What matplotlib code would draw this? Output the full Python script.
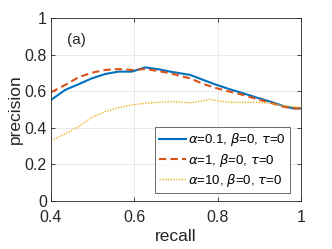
import matplotlib
matplotlib.use("Agg")
import matplotlib.pyplot as plt

plt.rcParams['font.family'] = ['Liberation Sans', 'DejaVu Sans']
plt.rcParams['mathtext.fontset'] = 'dejavusans'

x_blue = [0.4, 0.434, 0.466, 0.498, 0.53, 0.562, 0.594, 0.626, 0.658, 0.686, 0.734, 0.766,
          0.798, 0.83, 0.862, 0.894, 0.926, 0.958, 0.982, 1.0]
y_blue = [0.552, 0.607, 0.638, 0.67, 0.694, 0.707, 0.707, 0.73, 0.72, 0.707, 0.689, 0.661,
          0.634, 0.61, 0.588, 0.565, 0.543, 0.519, 0.506, 0.506]

x_red = [0.4, 0.434, 0.466, 0.498, 0.53, 0.562, 0.594, 0.626, 0.658, 0.686, 0.734, 0.766,
         0.798, 0.83, 0.862, 0.894, 0.926, 0.958, 0.982, 1.0]
y_red = [0.594, 0.634, 0.676, 0.701, 0.716, 0.721, 0.716, 0.721, 0.71, 0.698, 0.67, 0.639,
         0.616, 0.597, 0.579, 0.557, 0.537, 0.515, 0.506, 0.506]

x_yel = [0.4, 0.434, 0.466, 0.498, 0.53, 0.562, 0.594, 0.626, 0.658, 0.686, 0.734, 0.766,
         0.782, 0.798, 0.83, 0.862, 0.894, 0.926, 0.958, 1.0]
y_yel = [0.33, 0.366, 0.406, 0.457, 0.488, 0.51, 0.525, 0.534, 0.539, 0.543, 0.537, 0.548,
         0.556, 0.548, 0.539, 0.539, 0.539, 0.534, 0.521, 0.512]

labels = [r'$\alpha$=0.1, $\beta$=0, $\tau$=0',
          r'$\alpha$=1, $\beta$=0, $\tau$=0',
          r'$\alpha$=10, $\beta$=0, $\tau$=0']

fig = plt.figure(figsize=(3.32, 2.49), dpi=100)
ax = fig.add_axes([51/332, 48/249, 250/332, 183/249])

ax.plot(x_blue, y_blue, color='#0072BD', lw=1.5, ls='-', label=labels[0])
ax.plot(x_red, y_red, color='#D95319', lw=1.5, ls=(0, (3.5, 2)), label=labels[1])
ax.plot(x_yel, y_yel, color='#EDB120', lw=1.0, ls=(0, (1, 1)), label=labels[2])

ax.set_xlim(0.4, 1)
ax.set_ylim(0, 1)
ax.set_xticks([0.4, 0.6, 0.8, 1.0])
ax.set_xticklabels(['0.4', '0.6', '0.8', '1'])
ax.set_yticks([0, 0.2, 0.4, 0.6, 0.8, 1.0])
ax.set_yticklabels(['0', '0.2', '0.4', '0.6', '0.8', '1'])
ax.grid(True, color='#e6e6e6', lw=0.6)
ax.set_axisbelow(True)
for s in ax.spines.values():
    s.set_color('#262626')
    s.set_linewidth(0.6)
ax.tick_params(direction='in', length=3, width=0.6, colors='#262626', labelsize=11.5,
               top=True, right=True)
ax.tick_params(axis='x', pad=6.5)
ax.tick_params(axis='y', pad=3)
ax.set_xlabel('recall', fontsize=12.5, color='#262626', labelpad=2.5)
ax.set_ylabel('precision', fontsize=12.5, color='#262626', labelpad=1)
ax.text(0.438, 0.88, '(a)', fontsize=11, color='#262626', ha='left', va='center')

leg = ax.legend(loc='lower right', bbox_to_anchor=(0.956, 0.044), borderaxespad=0,
                fontsize=9.5, frameon=True, fancybox=False, handlelength=2.0,
                handletextpad=0.2, borderpad=0.3, labelspacing=0.25)
leg.get_frame().set_edgecolor('#262626')
leg.get_frame().set_linewidth(0.6)

fig.savefig('out.png', dpi=100)
